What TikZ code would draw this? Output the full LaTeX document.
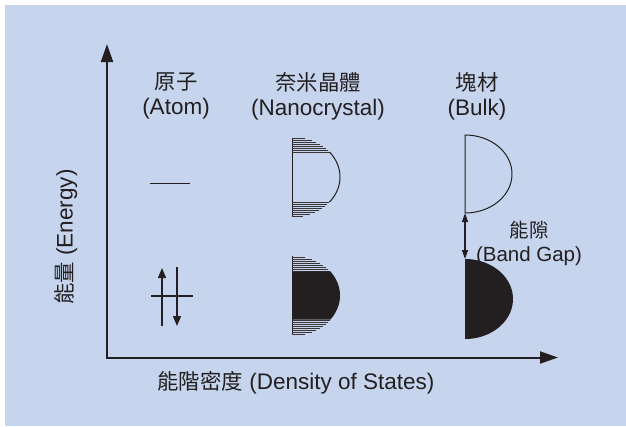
\documentclass[tikz,border=0pt]{standalone}
\usepackage{fontspec}
\setmainfont{Liberation Sans}
\newfontfamily\cjk[Scale=0.95]{Noto Sans CJK TC}
\usetikzlibrary{arrows.meta}
\definecolor{bgblue}{RGB}{198,213,237}
\definecolor{ink}{RGB}{35,31,32}
\tikzset{
  lbl/.style={text=ink, align=center, inner sep=0pt, font=\fontsize{22.5}{25}\selectfont},
  axis/.style={draw=ink, line width=2pt, -{Triangle[length=18pt,width=12pt]}},
  spin/.style={draw=ink, line width=1.4pt, -{Triangle[length=10pt,width=8pt]}},
  gap/.style={draw=ink, line width=1.4pt, {Triangle[length=9pt,width=6pt]}-{Triangle[length=9pt,width=6pt]}},
  edge/.style={draw=ink, line width=1pt},
  hatch/.style={draw=ink!90, line width=0.9pt},
}
\begin{document}
\begin{tikzpicture}[x=1pt,y=-1pt]
\useasboundingbox (0,0) rectangle (626,426);
\fill[bgblue] (5,5) rectangle (626,426);

% axes
\coordinate (O) at (107,357.5);
\coordinate (Ytip) at (107,44);
\coordinate (Xtip) at (558,357.5);
\draw[axis] ([yshift=-1pt]O) -- (Ytip);
\draw[axis] ([xshift=-1pt]O) -- (Xtip);

% column titles
\node[lbl] (atomT) at (176,96) {{\cjk 原子}\\(Atom)};
\node[lbl] (nanoT) at (318,96) {{\cjk 奈米晶體}\\(Nanocrystal)};
\node[lbl] (bulkT) at (477,96) {{\cjk 塊材}\\(Bulk)};

% axis labels
\node[lbl, rotate=90] (ylab) at (66,237) {{\cjk 能量} (Energy)};
\node[lbl] (xlab) at (296,383) {{\cjk 能階密度} (Density of States)};

% atom levels
\coordinate (a1) at (150,183.5);
\coordinate (a2) at (190,183.5);
\draw[edge, line width=1.6pt] (a1) -- (a2);
\coordinate (b1) at (151,296);
\coordinate (b2) at (193,296);
\draw[edge, line width=1.5pt] (b1) -- (b2);
\coordinate (u1) at (162,326);
\coordinate (u2) at (162,268);
\draw[spin] (u1) -- (u2);
\coordinate (d1) at (177,267);
\coordinate (d2) at (177,326);
\draw[spin] (d1) -- (d2);

% nanocrystal upper (empty band)
\def\cx{292}
\def\cyA{177}
\draw[edge] (\cx,137.5) -- (\cx,216.5);
\foreach \y in {138.5,140.5,...,152.5} {
  \draw[hatch] (\cx,\y) -- ({\cx+48*sqrt(max(0,1-((\y-\cyA)/40)^2))},\y);
}
\foreach \y in {202,204,...,216} {
  \draw[hatch] (\cx,\y) -- ({\cx+48*sqrt(max(0,1-((\y-\cyA)/40)^2))},\y);
}
\draw[edge] plot[domain=-38.7:38.7, samples=40, smooth] ({\cx+48*cos(\x)},{\cyA+40*sin(\x)});

% nanocrystal lower (filled band)
\def\cyB{295.5}
\draw[edge] (\cx,256) -- (\cx,335);
\foreach \y in {257,259,...,271} {
  \draw[hatch] (\cx,\y) -- ({\cx+48*sqrt(max(0,1-((\y-\cyB)/40)^2))},\y);
}
\foreach \y in {320,322,...,334} {
  \draw[hatch] (\cx,\y) -- ({\cx+48*sqrt(max(0,1-((\y-\cyB)/40)^2))},\y);
}
\fill[ink] (\cx,{\cyB-24}) -- plot[domain=-36.9:36.9, samples=40, smooth] ({\cx+48*cos(\x)},{\cyB+40*sin(\x)}) -- (\cx,{\cyB+24}) -- cycle;

% bulk
\def\bx{465}
\coordinate (vtop) at (\bx,135);
\coordinate (vbot) at (\bx,213);
\draw[edge] (vbot) -- (vtop)
  -- plot[domain=-90:90, samples=60, smooth] ({\bx+47*cos(\x)},{174+39*sin(\x)});
\fill[ink] (\bx,259) -- plot[domain=-90:90, samples=60, smooth] ({\bx+48*cos(\x)},{299+40*sin(\x)}) -- cycle;
\coordinate (ctop) at (\bx,259);
\draw[gap] (vbot) -- (ctop);

\node[lbl, font=\fontsize{20.5}{24}\selectfont] (gapT) at (529,243) {{\cjk 能隙}\\(Band Gap)};
\end{tikzpicture}
\end{document}
